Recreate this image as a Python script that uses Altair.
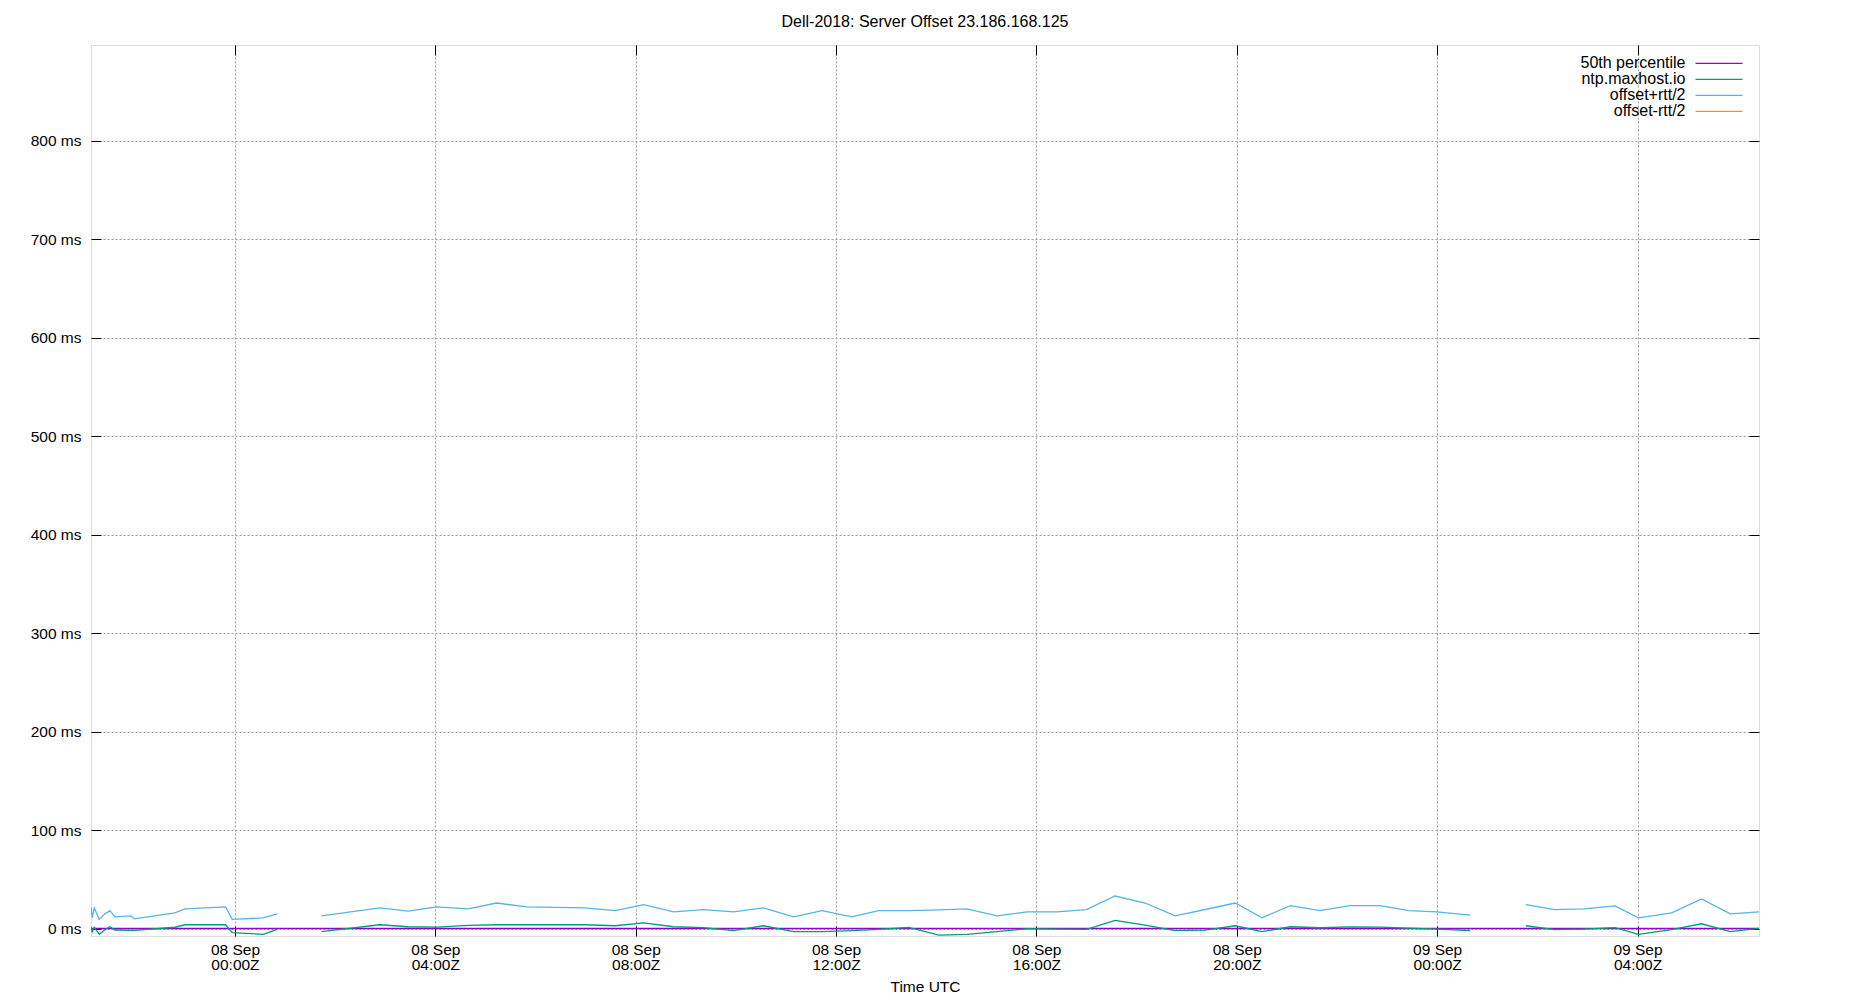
import altair as alt
import pandas as pd

TITLE = "Dell-2018: Server Offset 23.186.168.125"
series_names = ["50th percentile", "ntp.maxhost.io", "offset+rtt/2", "offset-rtt/2"]
series_colors = ["#9400d3", "#009e73", "#56b4e9", "#e69f00"]

# sample times (UTC) split in three segments (gaps in the reference)
seg1_times = ["2018-09-07T21:07:40Z", "2018-09-07T21:09:06Z", "2018-09-07T21:11:30Z", "2018-09-07T21:17:30Z",
              "2018-09-07T21:24:18Z", "2018-09-07T21:30:12Z", "2018-09-07T21:36:12Z", "2018-09-07T21:55:24Z",
              "2018-09-07T21:59:24Z", "2018-09-07T22:48:06Z", "2018-09-07T23:00:06Z", "2018-09-07T23:48:48Z",
              "2018-09-07T23:56:48Z", "2018-09-08T00:33:54Z", "2018-09-08T00:50:42Z"]
seg1_plus = [21.8, 11.0, 21.1, 9.4, 15.1, 18.4, 12.0, 13.1, 10.0, 16.1, 20.1, 22.1, 9.4, 11.0, 15.1]
seg1_offset = [2.0, -3.0, 1.5, -5.7, -1.0, 2.0, -1.3, -1.7, -1.7, 1.5, 4.0, 4.0, -4.0, -5.7, -0.7]

seg2_times = ["2018-09-08T01:43:42Z", "2018-09-08T02:53:36Z", "2018-09-08T03:27:30Z", "2018-09-08T04:01:24Z",
              "2018-09-08T04:39:24Z", "2018-09-08T05:13:18Z", "2018-09-08T05:49:42Z", "2018-09-08T06:59:36Z",
              "2018-09-08T07:35:24Z", "2018-09-08T08:09:24Z", "2018-09-08T08:45:18Z", "2018-09-08T09:21:12Z",
              "2018-09-08T09:57:06Z", "2018-09-08T10:33:00Z", "2018-09-08T11:09:00Z", "2018-09-08T11:43:12Z",
              "2018-09-08T12:18:36Z", "2018-09-08T12:51:00Z", "2018-09-08T13:27:00Z", "2018-09-08T14:03:00Z",
              "2018-09-08T14:36:36Z", "2018-09-08T15:12:36Z", "2018-09-08T15:48:36Z", "2018-09-08T16:24:00Z",
              "2018-09-08T17:00:00Z", "2018-09-08T17:34:12Z", "2018-09-08T18:10:12Z", "2018-09-08T18:46:12Z",
              "2018-09-08T19:22:12Z", "2018-09-08T19:58:12Z", "2018-09-08T20:30:00Z", "2018-09-08T21:04:12Z",
              "2018-09-08T21:39:36Z", "2018-09-08T22:15:36Z", "2018-09-08T22:51:36Z", "2018-09-08T23:25:48Z",
              "2018-09-08T23:59:24Z", "2018-09-09T00:39:36Z"]
seg2_plus = [13.1, 21.1, 17.8, 22.1, 20.1, 26.1, 22.1, 21.1, 18.4, 24.5, 17.1, 19.4, 17.1, 21.1, 12.0, 18.4,
             12.0, 18.4, 18.4, 19.1, 20.1, 13.1, 17.1, 17.1, 19.4, 33.2, 26.1, 13.1, 19.5, 26.1, 11.0, 23.5,
             18.4, 23.5, 23.5, 18.4, 17.1, 13.7]
seg2_offset = [-3.0, 4.0, 2.0, 1.6, 3.3, 4.0, 4.0, 4.0, 3.0, 6.0, 2.0, 1.0, -2.0, 3.0, -3.0, -3.0,
               -2.0, -0.7, 1.3, -6.5, -5.7, -3.0, 0.0, -0.4, -0.7, 8.4, 3.7, -2.0, -1.4, 3.0, -3.0, 2.0,
               1.0, 1.8, 1.6, 0.6, -0.4, -2.0]

seg3_times = ["2018-09-09T01:46:12Z", "2018-09-09T02:21:00Z", "2018-09-09T02:55:12Z", "2018-09-09T03:33:00Z",
              "2018-09-09T04:01:12Z", "2018-09-09T04:40:48Z", "2018-09-09T05:16:48Z", "2018-09-09T05:51:00Z",
              "2018-09-09T06:25:30Z"]
seg3_plus = [24.5, 19.4, 20.1, 23.1, 11.0, 16.1, 30.2, 15.1, 17.1]
seg3_offset = [3.0, -1.0, -0.4, 1.0, -5.7, -1.0, 5.0, -3.0, 0.3]

median_times = ["2018-09-07T21:07:34Z", "2018-09-09T06:25:30Z"]
median_ms = [0.2, 0.2]

y_ticks = [0, 100, 200, 300, 400, 500, 600, 700, 800]

rows = []
for t, v in zip(median_times, median_ms):
    rows.append({"time": t, "value": v, "series": series_names[0], "seg": "m"})
for name, segs in [(series_names[1], [(seg1_times, seg1_offset), (seg2_times, seg2_offset), (seg3_times, seg3_offset)]),
                   (series_names[2], [(seg1_times, seg1_plus), (seg2_times, seg2_plus), (seg3_times, seg3_plus)])]:
    for i, (ts, vs) in enumerate(segs):
        for t, v in zip(ts, vs):
            rows.append({"time": t, "value": v, "series": name, "seg": f"s{i}"})
df = pd.DataFrame(rows)
median_df = df[df["series"] == series_names[0]]
lines_df = df[df["series"] != series_names[0]]

FONT = "Liberation Sans"
FS = 15.5
x_ticks = [alt.DateTime(year=2018, month=9, date=d, hours=h, utc=True)
           for d, h in [(8, 0), (8, 4), (8, 8), (8, 12), (8, 16), (8, 20), (9, 0), (9, 4)]]
x_scale = alt.Scale(type="utc", domain=[
    alt.DateTime(year=2018, month=9, date=7, hours=21, minutes=7, seconds=34, utc=True),
    alt.DateTime(year=2018, month=9, date=9, hours=6, minutes=25, seconds=30, utc=True)])
y_scale = alt.Scale(domain=[-7.4, 897.1], nice=False, zero=False)

legend = alt.Legend(orient="none", legendX=1620, legendY=10.3, title=None,
                    symbolType="M-3.357,0H3.357", symbolSize=196, symbolStrokeWidth=1.3,
                    labelAlign="right", labelOffset={"expr": "-41.5"},
                    labelFontSize=16, labelFont=FONT, labelColor="black", padding=0,
                    rowPadding={"expr": "-2"}, labelLimit=300)
color_enc = alt.Color("series:N", scale=alt.Scale(domain=series_names, range=series_colors), legend=legend)

tick_common = dict(offset=-10, tickSize=10, tickColor="black", tickWidth=1, domain=False)

median_layer = alt.Chart(median_df).mark_line(strokeWidth=1.3, clip=True).encode(
    x=alt.X("time:T", scale=x_scale,
            axis=alt.Axis(orient="top", values=x_ticks, labels=False, grid=False, title=None, **tick_common)),
    y=alt.Y("value:Q", scale=y_scale,
            axis=alt.Axis(orient="right", values=y_ticks, labels=False, grid=False, title=None, **tick_common)),
    color=color_enc,
    detail="seg:N",
)

lines_layer = alt.Chart(lines_df).mark_line(strokeWidth=1.3, clip=True).encode(
    x=alt.X("time:T", scale=x_scale,
            axis=alt.Axis(orient="bottom", values=x_ticks, grid=True, gridColor="#a0a0a0", gridDash=[2, 2],
                          gridWidth=1, labelExpr="[utcFormat(datum.value, '%d %b'), utcFormat(datum.value, '%H:%MZ')]",
                          labelFont=FONT, labelFontSize=FS, labelColor="black", labelLineHeight=15,
                          labelBaseline="top", labelPadding=6, labelOverlap=False, labelFlush=False,
                          title="Time UTC", titleFont=FONT, titleFontSize=FS, titleFontWeight="normal",
                          titleColor="black", titlePadding=7, **tick_common)),
    y=alt.Y("value:Q", scale=y_scale,
            axis=alt.Axis(orient="left", values=y_ticks, grid=True, gridColor="#a0a0a0", gridDash=[2, 2],
                          gridWidth=1, labelExpr="datum.value + ' ms'", labelFont=FONT, labelFontSize=FS,
                          labelColor="black", labelPadding=10, title=None, **tick_common)),
    color=color_enc,
    detail="seg:N",
)

chart = alt.layer(median_layer, lines_layer).resolve_axis(
    x="independent", y="independent"
).properties(
    width=1668, height=891,
    padding={"left": 83, "top": 37, "right": 83, "bottom": 64},
    autosize=alt.AutoSizeParams(type="none"),
    title=alt.TitleParams(TITLE, font=FONT, fontSize=16, fontWeight="normal", color="black",
                          anchor="middle", frame="group", baseline="alphabetic", offset=0, dy=-1.4),
).configure_view(stroke="black", strokeWidth=1).configure(background="white")

chart.save("out.html", embed_options={"renderer": "svg", "actions": False})
